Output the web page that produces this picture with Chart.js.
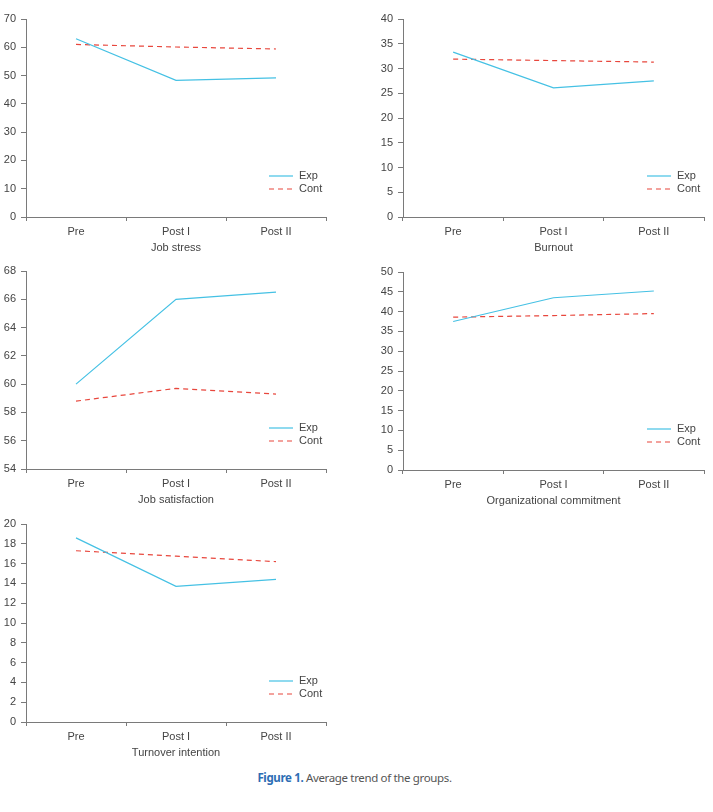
<!DOCTYPE html>
<html>
<head>
<meta charset="utf-8">
<script src="https://cdn.jsdelivr.net/npm/chart.js@4.4.1/dist/chart.umd.min.js"></script>
<style>
  html, body { margin: 0; padding: 0; background: #fff; }
  body { width: 713px; height: 812px; position: relative; overflow: hidden; }
  .c { position: absolute; }
  #caption { position: absolute; left: 0; width: 709px; top: 770px; text-align: center;
    font-family: "Noto Sans", sans-serif; font-size: 11.5px; color: #555; letter-spacing: -0.35px; }
  #caption b { color: #2d6db4; font-weight: 700; }
</style>
</head>
<body>
<canvas id="c1" class="c" width="340" height="260" style="left:0px;top:0px"></canvas>
<canvas id="c2" class="c" width="336" height="260" style="left:377px;top:0px"></canvas>
<canvas id="c3" class="c" width="340" height="260" style="left:0px;top:252px"></canvas>
<canvas id="c4" class="c" width="336" height="260" style="left:377px;top:253px"></canvas>
<canvas id="c5" class="c" width="340" height="260" style="left:0px;top:505px"></canvas>
<div id="caption"><b>Figure 1.</b> Average trend of the groups.</div>
<script>
const categories = ['Pre', 'Post I', 'Post II'];
const seriesNames = ['Exp', 'Cont'];

const jobStressExp = [63.0, 48.3, 49.2];
const jobStressCont = [61.0, 60.1, 59.4];

const burnoutExp = [33.3, 26.1, 27.5];
const burnoutCont = [31.9, 31.6, 31.3];

const jobSatisfactionExp = [60.0, 66.0, 66.5];
const jobSatisfactionCont = [58.8, 59.7, 59.3];

const orgCommitmentExp = [37.5, 43.5, 45.2];
const orgCommitmentCont = [38.6, 39.0, 39.5];

const turnoverExp = [18.6, 13.7, 14.4];
const turnoverCont = [17.3, 16.75, 16.2];

const panelTitles = ['Job stress', 'Burnout', 'Job satisfaction', 'Organizational commitment', 'Turnover intention'];
const yMin = [0, 0, 54, 0, 0];
const yMax = [70, 40, 68, 50, 20];
const yStep = [10, 5, 2, 5, 2];

const EXP_COLOR = '#45c1e4';
const CONT_COLOR = '#e8473d';
const AXIS_COLOR = '#7a7a7a';
const TEXT_COLOR = '#444';
const FONT = '"Liberation Sans", Arial, sans-serif';

const legendPlugin = {
  id: 'innerLegend',
  afterDatasetsDraw(chart) {
    const ctx = chart.ctx;
    const a = chart.chartArea;
    const offsets = [41, 28];
    ctx.save();
    chart.data.datasets.forEach((ds, i) => {
      const y = a.bottom - offsets[i];
      ctx.beginPath();
      ctx.strokeStyle = ds.borderColor;
      ctx.lineWidth = 1.2;
      ctx.setLineDash(ds.borderDash || []);
      ctx.moveTo(a.right - 57, y);
      ctx.lineTo(a.right - 33, y);
      ctx.stroke();
      ctx.setLineDash([]);
      ctx.fillStyle = TEXT_COLOR;
      ctx.font = '11px ' + FONT;
      ctx.textBaseline = 'middle';
      ctx.textAlign = 'left';
      ctx.fillText(ds.label, a.right - 27, y);
    });
    ctx.restore();
  }
};

function makeChart(id, idx, exp, cont, rightPad) {
  new Chart(document.getElementById(id), {
    type: 'line',
    data: {
      labels: categories,
      datasets: [
        { label: seriesNames[0], data: exp, borderColor: EXP_COLOR, borderWidth: 1.2,
          pointRadius: 0, tension: 0, fill: false },
        { label: seriesNames[1], data: cont, borderColor: CONT_COLOR, borderWidth: 1.2,
          borderDash: [5, 4], pointRadius: 0, tension: 0, fill: false }
      ]
    },
    options: {
      responsive: false,
      animation: false,
      devicePixelRatio: 1,
      layout: { padding: { top: 19, right: rightPad, left: 0, bottom: 0 } },
      plugins: { legend: { display: false }, tooltip: { enabled: false } },
      scales: {
        x: {
          offset: true,
          grid: { offset: true, drawOnChartArea: false, tickLength: 4, color: AXIS_COLOR, lineWidth: 1 },
          border: { color: AXIS_COLOR, width: 1 },
          ticks: { color: TEXT_COLOR, font: { family: FONT, size: 11 }, padding: 4, maxRotation: 0 },
          title: { display: true, text: panelTitles[idx], color: TEXT_COLOR,
                   font: { family: FONT, size: 11 }, padding: { top: 0, bottom: 5 } },
          afterFit(scale) { scale.height = 43; }
        },
        y: {
          min: yMin[idx], max: yMax[idx],
          grid: { drawOnChartArea: false, tickLength: 5, color: AXIS_COLOR, lineWidth: 1 },
          border: { color: AXIS_COLOR, width: 1 },
          ticks: { stepSize: yStep[idx], color: TEXT_COLOR, font: { family: FONT, size: 11 }, padding: 5 },
          afterFit(scale) { scale.width = 26; }
        }
      }
    },
    plugins: [legendPlugin]
  });
}

makeChart('c1', 0, jobStressExp, jobStressCont, 14);
makeChart('c2', 1, burnoutExp, burnoutCont, 9);
makeChart('c3', 2, jobSatisfactionExp, jobSatisfactionCont, 14);
makeChart('c4', 3, orgCommitmentExp, orgCommitmentCont, 9);
makeChart('c5', 4, turnoverExp, turnoverCont, 14);
</script>
</body>
</html>
